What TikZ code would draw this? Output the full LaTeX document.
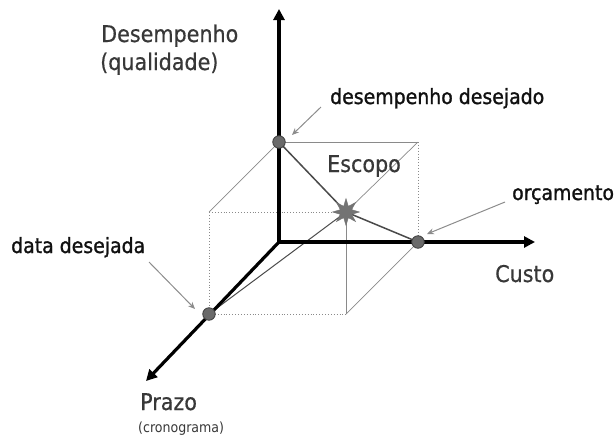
\documentclass[tikz,border=0pt]{standalone}
\usepackage{fontspec}
\setmainfont{DejaVu Sans Condensed}
\newfontfamily\annfont{DejaVu Sans Condensed}[FakeBold=1.2]
\newfontfamily\axfont{DejaVu Sans Condensed}[FakeBold=0.5]
\usetikzlibrary{arrows.meta,shapes.geometric}
\definecolor{axlab}{HTML}{383838}
\definecolor{annlab}{HTML}{101010}
\definecolor{boxgray}{HTML}{8A8A8A}
\definecolor{tri}{HTML}{4A4A4A}
\definecolor{dotfill}{HTML}{6A6A6A}
\definecolor{pointer}{HTML}{8C8C8C}
\tikzset{
  axis/.style={line width=3.2pt,black,-{Triangle[length=11pt,width=11pt]}},
  boxline/.style={line width=0.7pt,boxgray},
  boxdot/.style={line width=0.9pt,boxgray,dotted},
  triline/.style={line width=1.5pt,tri},
  thinline/.style={line width=1pt,tri},
  dotpt/.style={circle,fill=dotfill,draw=black!75,line width=0.8pt,minimum size=12.5pt,inner sep=0pt},
  pointerarrow/.style={line width=1pt,pointer,-{Stealth[length=7pt,width=6pt]}},
  axlabel/.style={text=axlab,inner sep=0pt,anchor=base west,font=\axfont\fontsize{23}{25}\selectfont},
  annlabel/.style={text=annlab,inner sep=0pt,anchor=base west,font=\annfont\fontsize{21}{23}\selectfont},
}
\begin{document}
\begin{tikzpicture}[x=1pt,y=-1pt]
\useasboundingbox (0,0) rectangle (614,437);
% key coordinates
\coordinate (O) at (279,242);
\coordinate (Ytip) at (279,9);
\coordinate (Xtip) at (535,242);
\coordinate (Ztip) at (146,381);
\coordinate (Dp) at (279,142);
\coordinate (Cp) at (418,242);
\coordinate (Pp) at (209,314);
\coordinate (S) at (346,212);
\coordinate (FTL) at (209,212);
\coordinate (FBR) at (346,314);
\coordinate (BTR) at (418,142);
% box
\draw[boxline] (FTL) -- (Dp);
\draw[boxline] (Dp) -- (BTR);
\draw[boxline] (S) -- (BTR);
\draw[boxline] (FBR) -- (Cp);
\draw[boxline] (S) -- (FBR);
\draw[boxdot] (FTL) -- (S);
\draw[boxdot] (FTL) -- (Pp);
\draw[boxdot] (Pp) -- (FBR);
\draw[boxdot] (BTR) -- (Cp);
% scope lines
\draw[thinline] (Pp) -- (S);
% axes
\draw[axis] (O) -- (Ytip);
\draw[axis] (O) -- (Xtip);
\draw[axis] (O) -- (Ztip);
% triangle
\draw[triline] (Dp) -- (S) -- (Cp);
% points
\node[dotpt] (D) at (Dp) {};
\node[dotpt] (C) at (Cp) {};
\node[dotpt] (P) at (Pp) {};
\node[star,star points=8,star point ratio=2.2,minimum size=27pt,inner sep=0pt,fill=black!55,draw=black!55] (St) at (S) {};
% labels
\node[axlabel] (l1) at (101,42) {Desempenho};
\node[axlabel] (l2) at (100,70) {(qualidade)};
\node[annlabel] (l3) at (330,104) {desempenho desejado};
\node[axlabel] (l4) at (327,172) {Escopo};
\node[annlabel] (l5) at (512,200) {orçamento};
\node[annlabel] (l6) at (11,253) {data desejada};
\node[axlabel] (l7) at (495,282) {Custo};
\node[axlabel] (l8) at (140,410) {Prazo};
\node[text=axlab,inner sep=0pt,anchor=base west,font=\fontsize{14}{16}\selectfont] (l9) at (138,432) {(cronograma)};
% pointer arrows
\coordinate (a1s) at (321,107);
\coordinate (a1e) at (292,135);
\coordinate (a2s) at (505,202);
\coordinate (a2e) at (427,234);
\coordinate (a3s) at (149,262);
\coordinate (a3e) at (195,309);
\draw[pointerarrow] (a1s) -- (a1e);
\draw[pointerarrow] (a2s) -- (a2e);
\draw[pointerarrow] (a3s) -- (a3e);
\end{tikzpicture}
\end{document}
